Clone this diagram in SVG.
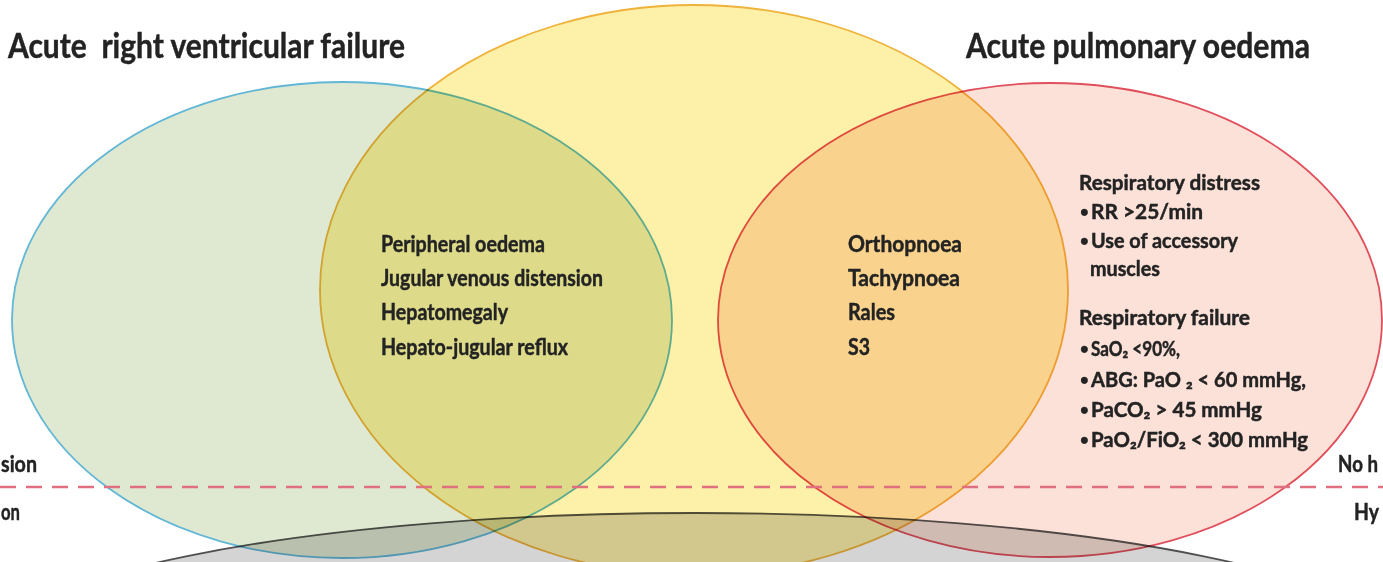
<svg xmlns="http://www.w3.org/2000/svg" width="1383" height="562" viewBox="0 0 1383 562">
<style>
.e{mix-blend-mode:multiply;stroke-width:1.8}
.t{font-family:Lato,"Open Sans","Liberation Sans",sans-serif;font-weight:bold;fill:#232323;stroke:#232323;stroke-width:0.45}
.h{font-size:34px}
.l{font-size:22px}
.r{font-size:20px}
.b{font-size:15px}
</style>
<rect width="1383" height="562" fill="#ffffff"/>
<g id="venn">
<g id="right-ventricular-failure"><ellipse class="e" cx="342" cy="320" rx="330" ry="238" fill="#dfe9d2" stroke="#62b6d6"/></g>
<g id="congestion"><ellipse class="e" cx="694" cy="290" rx="374" ry="285" fill="#fdf0a8" stroke="#efb23a"/></g>
<g id="pulmonary-oedema"><ellipse class="e" cx="1050" cy="320" rx="332" ry="237" fill="#fbe1d8" stroke="#e0505c"/></g>
<g id="hypoperfusion"><ellipse class="e" cx="695" cy="660" rx="718" ry="147" fill="#d4d4d4" stroke="#505050" stroke-width="2"/></g>
</g>
<g id="connectors">
<line x1="0" y1="487" x2="1383" y2="487" stroke="#e07080" stroke-width="2.5" stroke-dasharray="16 10"/>
</g>
<g id="labels">
<text class="t h" x="8" y="58" textLength="397" lengthAdjust="spacingAndGlyphs" xml:space="preserve">Acute  right ventricular failure</text>
<text class="t h" x="966" y="58" textLength="344" lengthAdjust="spacingAndGlyphs">Acute pulmonary oedema</text>
<text class="t l" x="381" y="252" textLength="164" lengthAdjust="spacingAndGlyphs">Peripheral oedema</text>
<text class="t l" x="381" y="286" textLength="222" lengthAdjust="spacingAndGlyphs">Jugular venous distension</text>
<text class="t l" x="381" y="320" textLength="127" lengthAdjust="spacingAndGlyphs">Hepatomegaly</text>
<text class="t l" x="381" y="355" textLength="187" lengthAdjust="spacingAndGlyphs">Hepato-jugular reflux</text>
<text class="t l" x="848" y="252" textLength="114" lengthAdjust="spacingAndGlyphs">Orthopnoea</text>
<text class="t l" x="848" y="286" textLength="112" lengthAdjust="spacingAndGlyphs">Tachypnoea</text>
<text class="t l" x="848" y="320" textLength="47" lengthAdjust="spacingAndGlyphs">Rales</text>
<text class="t l" x="848" y="355" textLength="22" lengthAdjust="spacingAndGlyphs">S3</text>
<text class="t r" x="1079" y="190" textLength="181" lengthAdjust="spacingAndGlyphs">Respiratory distress</text>
<text class="t b" x="1080" y="217">•</text>
<text class="t r" x="1091" y="219" textLength="112" lengthAdjust="spacingAndGlyphs">RR &gt;25/min</text>
<text class="t b" x="1080" y="246">•</text>
<text class="t r" x="1091" y="248" textLength="147" lengthAdjust="spacingAndGlyphs">Use of accessory</text>
<text class="t r" x="1090" y="276" textLength="70" lengthAdjust="spacingAndGlyphs">muscles</text>
<text class="t r" x="1079" y="325" textLength="171" lengthAdjust="spacingAndGlyphs">Respiratory failure</text>
<text class="t b" x="1080" y="354">•</text>
<text class="t r" x="1091" y="356" textLength="89" lengthAdjust="spacingAndGlyphs">SaO₂ &lt;90%,</text>
<text class="t b" x="1080" y="385">•</text>
<text class="t r" x="1091" y="387" textLength="215" lengthAdjust="spacingAndGlyphs">ABG: PaO ₂ &lt; 60 mmHg,</text>
<text class="t b" x="1080" y="415">•</text>
<text class="t r" x="1091" y="417" textLength="171" lengthAdjust="spacingAndGlyphs">PaCO₂ &gt; 45 mmHg</text>
<text class="t b" x="1080" y="445">•</text>
<text class="t r" x="1091" y="447" textLength="217" lengthAdjust="spacingAndGlyphs">PaO₂/FiO₂ &lt; 300 mmHg</text>
<text class="t l" x="37" y="472" text-anchor="end" textLength="36" lengthAdjust="spacingAndGlyphs">sion</text>
<text class="t l" x="20" y="520" text-anchor="end" textLength="19" lengthAdjust="spacingAndGlyphs">on</text>
<text class="t l" x="1338" y="472" textLength="40" lengthAdjust="spacingAndGlyphs">No h</text>
<text class="t l" x="1354" y="520" textLength="25" lengthAdjust="spacingAndGlyphs">Hy</text>
</g>
</svg>
